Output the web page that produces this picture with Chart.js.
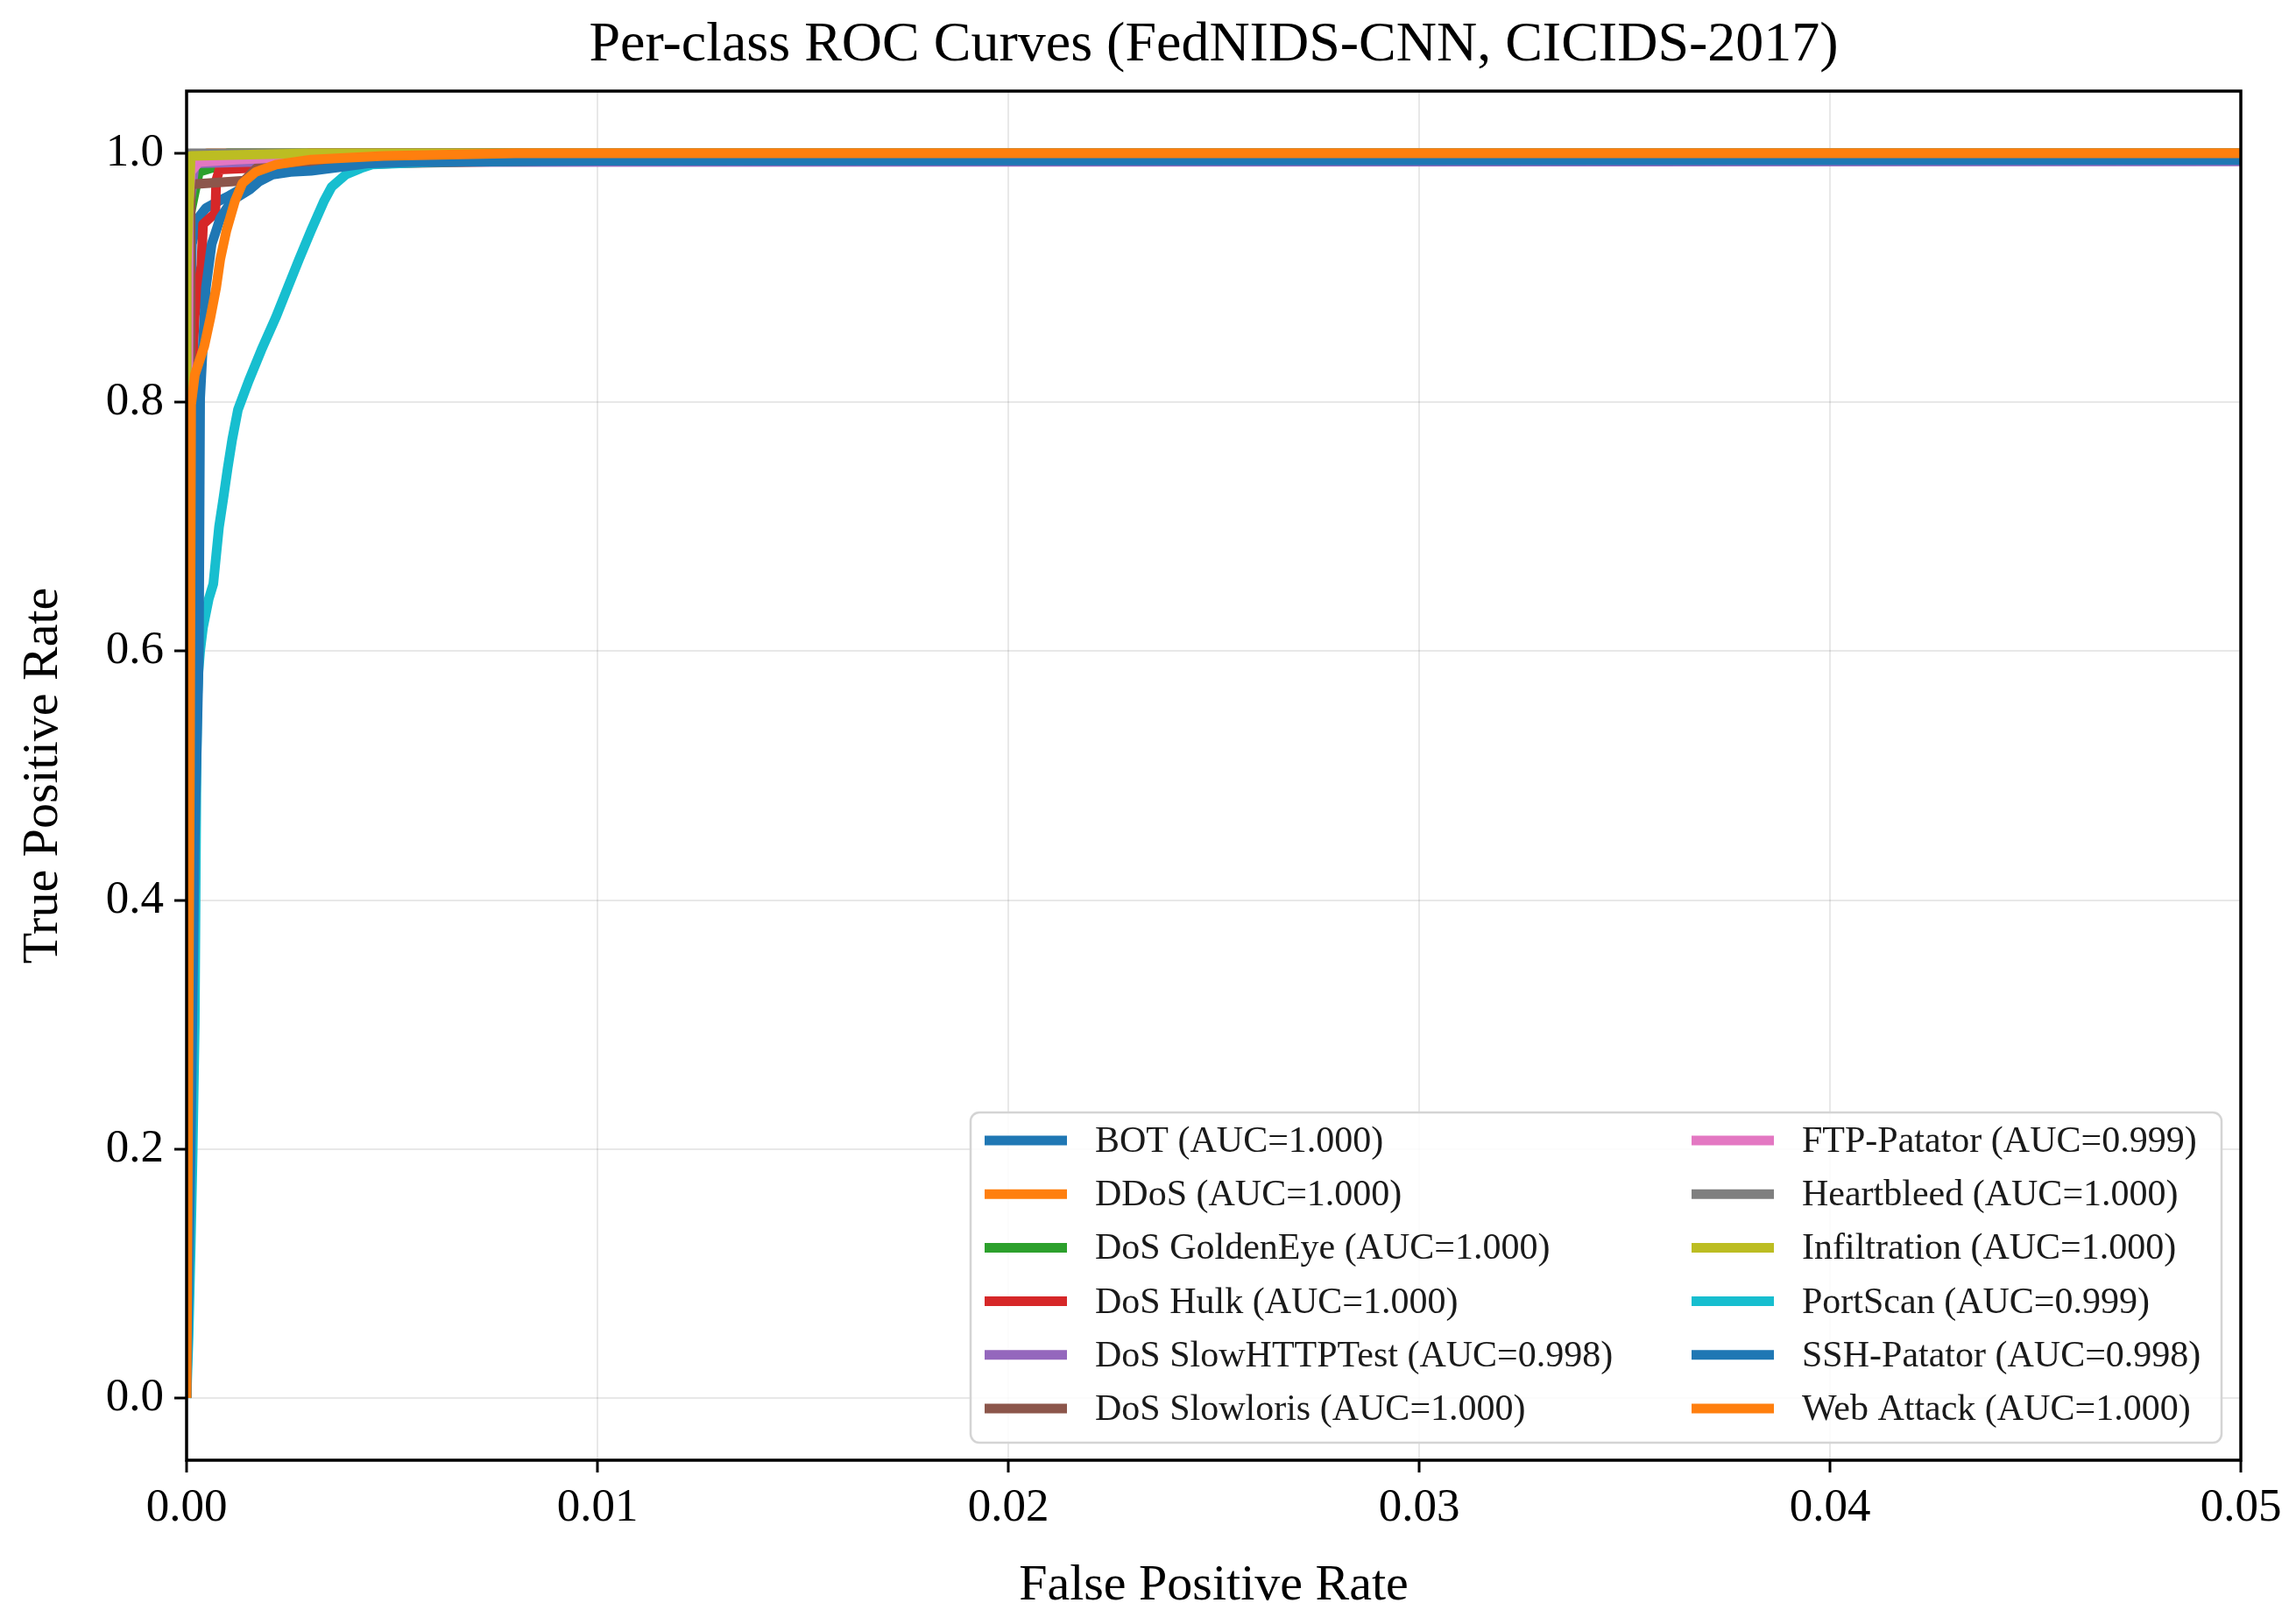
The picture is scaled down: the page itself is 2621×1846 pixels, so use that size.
<!DOCTYPE html>
<html>
<head>
<meta charset="utf-8">
<script src="https://cdn.jsdelivr.net/npm/chart.js@4.4.1/dist/chart.umd.min.js"></script>
<style>
  html, body { margin: 0; padding: 0; background: #fff; }
  canvas { display: block; }
</style>
</head>
<body>
<canvas id="roc" width="2621" height="1846"></canvas>
<script>
// class names + AUC from the legend
const classes = ['BOT', 'DDoS', 'DoS GoldenEye', 'DoS Hulk', 'DoS SlowHTTPTest', 'DoS Slowloris',
                 'FTP-Patator', 'Heartbleed', 'Infiltration', 'PortScan', 'SSH-Patator', 'Web Attack'];
const aucs = ['1.000', '1.000', '1.000', '1.000', '0.998', '1.000', '0.999', '1.000', '1.000', '0.999', '0.998', '1.000'];
const colors = ['#1f77b4', '#ff7f0e', '#2ca02c', '#d62728', '#9467bd', '#8c564b',
                '#e377c2', '#7f7f7f', '#bcbd22', '#17becf', '#1f77b4', '#ff7f0e'];

const chartTitle = 'Per-class ROC Curves (FedNIDS-CNN, CICIDS-2017)';
const xTicks = [0, 0.01, 0.02, 0.03, 0.04, 0.05];
const yTicks = [0, 0.2, 0.4, 0.6, 0.8, 1.0];

// ROC points (fpr, tpr)
const botFpr = [0, 0.00005, 0.0001, 0.00013, 0.00026, 0.00047, 0.00075, 0.00104, 0.00125, 0.0016, 0.0025, 0.006, 0.02, 0.05];
const botTpr = [0, 0.5, 0.86, 0.927, 0.947, 0.956, 0.961, 0.966, 0.970, 0.98, 0.99, 0.997, 1.0, 1.0];

const ddosFpr = [0, 0.00003, 0.0001, 0.0005, 0.05];
const ddosTpr = [0, 0.9, 0.99, 1.0, 1.0];

const goldenFpr = [0, 0.00008, 0.0003, 0.0006, 0.001, 0.05];
const goldenTpr = [0, 0.95, 0.985, 0.988, 1.0, 1.0];

const hulkFpr = [0, 0.0001, 0.0002, 0.00036, 0.0004, 0.0007, 0.00072, 0.0008, 0.0015, 0.002, 0.003, 0.05];
const hulkTpr = [0, 0.8, 0.87, 0.91, 0.943, 0.952, 0.978, 0.987, 0.988, 0.995, 1.0, 1.0];

const slowhttpFpr = [0, 0.00005, 0.0002, 0.0015, 0.05];
const slowhttpTpr = [0, 0.95, 0.992, 0.993, 0.9935];

const slowlorisFpr = [0, 0.0001, 0.0001, 0.0014, 0.0017, 0.005, 0.012, 0.02, 0.05];
const slowlorisTpr = [0, 0.6, 0.975, 0.978, 0.988, 0.992, 0.996, 1.0, 1.0];

const ftpFpr = [0, 0.00005, 0.0001, 0.0003, 0.0012, 0.004, 0.01, 0.05];
const ftpTpr = [0, 0.96, 0.985, 0.993, 0.995, 0.999, 1.0, 1.0];

const heartFpr = [0, 0, 0.05];
const heartTpr = [0, 1.0, 1.0];

const infilFpr = [0, 0, 0.0001, 0.003, 0.05];
const infilTpr = [0, 0.91, 0.998, 1.0, 1.0];

const portFpr = [0, 0.00005, 0.0001, 0.00015, 0.0002, 0.00022, 0.00024, 0.00026, 0.00029, 0.00033, 0.0004, 0.00054,
                 0.00065, 0.00072, 0.00079, 0.0009, 0.001, 0.00111, 0.00125, 0.00151, 0.00182, 0.00217, 0.00246,
                 0.00274, 0.00303, 0.00335, 0.00353, 0.00388, 0.00424, 0.00452, 0.006, 0.01, 0.02, 0.05];
const portTpr = [0, 0.05, 0.12, 0.2, 0.3, 0.4, 0.5, 0.56, 0.584, 0.6, 0.619, 0.642,
                 0.654, 0.677, 0.70, 0.724, 0.747, 0.77, 0.794, 0.817, 0.842, 0.868, 0.892,
                 0.915, 0.938, 0.962, 0.973, 0.983, 0.988, 0.991, 0.993, 0.995, 0.997, 0.999];

const sshFpr = [0, 0.0001, 0.0002, 0.0003, 0.00033, 0.00047, 0.00061, 0.00082, 0.0011, 0.00154, 0.00175, 0.0021,
                0.00253, 0.00303, 0.00374, 0.00445, 0.0055, 0.01, 0.05];
const sshTpr = [0, 0.2, 0.45, 0.6, 0.803, 0.892, 0.927, 0.948, 0.962, 0.971, 0.977, 0.983,
                0.985, 0.986, 0.989, 0.992, 0.993, 0.994, 0.9945];

const webFpr = [0, 0.00008, 0.00011, 0.0002, 0.00043, 0.00058, 0.00072, 0.00082, 0.00097, 0.00118, 0.00136, 0.00168,
                0.00218, 0.00303, 0.0048, 0.008, 0.05];
const webTpr = [0, 0.5, 0.798, 0.822, 0.845, 0.868, 0.892, 0.915, 0.938, 0.962, 0.976, 0.985,
                0.991, 0.995, 0.998, 1.0, 1.0];

const curves = [
  [botFpr, botTpr], [ddosFpr, ddosTpr], [goldenFpr, goldenTpr], [hulkFpr, hulkTpr],
  [slowhttpFpr, slowhttpTpr], [slowlorisFpr, slowlorisTpr], [ftpFpr, ftpTpr], [heartFpr, heartTpr],
  [infilFpr, infilTpr], [portFpr, portTpr], [sshFpr, sshTpr], [webFpr, webTpr]
];

const serif = '"Liberation Serif", "Times New Roman", serif';
const LW = 11;

const datasets = curves.map(function(c, i) {
  return {
    label: classes[i] + ' (AUC=' + aucs[i] + ')',
    data: c[0].map(function(x, k) { return {x: x, y: c[1][k]}; }),
    borderColor: colors[i],
    backgroundColor: colors[i],
    borderWidth: LW,
    pointRadius: 0,
    fill: false,
    tension: 0,
    clip: 0,
    borderJoinStyle: 'round',
    borderCapStyle: 'butt',
    order: curves.length - i   // later classes on top, like matplotlib
  };
});

// black frame round the plot + title centred over the axes
const frame = {
  id: 'frame',
  afterDatasetsDraw(chart) {
    const a = chart.chartArea, ctx = chart.ctx;
    ctx.save();
    ctx.strokeStyle = '#000';
    ctx.lineWidth = 3.5;
    ctx.strokeRect(a.left, a.top, a.right - a.left, a.bottom - a.top);
    ctx.font = '64px ' + serif;
    ctx.fillStyle = '#000';
    ctx.textAlign = 'center';
    ctx.textBaseline = 'middle';
    ctx.fillText(chartTitle, (a.left + a.right) / 2, 52);
    ctx.restore();
  }
};

// two-column legend in the lower right corner, filled column by column
const innerLegend = {
  id: 'innerLegend',
  afterDraw(chart) {
    const a = chart.chartArea, ctx = chart.ctx;
    const w = 1428, h = 377;
    const left = a.right - 22 - w, top = a.bottom - 20 - h;
    ctx.save();
    ctx.beginPath();
    ctx.roundRect(left, top, w, h, 10);
    ctx.fillStyle = 'rgba(255,255,255,0.85)';
    ctx.fill();
    ctx.strokeStyle = '#d4d4d4';
    ctx.lineWidth = 2.5;
    ctx.stroke();
    ctx.font = '42px ' + serif;
    ctx.textBaseline = 'middle';
    ctx.fillStyle = '#1a1a1a';
    const rows = 6;
    chart.data.datasets.forEach(function(ds, i) {
      const col = Math.floor(i / rows), row = i % rows;
      const x0 = left + (col === 0 ? 16 : 823);
      const y = top + 32 + row * 61.2;
      ctx.beginPath();
      ctx.moveTo(x0, y);
      ctx.lineTo(x0 + 94, y);
      ctx.strokeStyle = ds.borderColor;
      ctx.lineWidth = LW;
      ctx.stroke();
      ctx.fillText(ds.label, x0 + 126, y + 2);
    });
    ctx.restore();
  }
};

new Chart(document.getElementById('roc'), {
  type: 'line',
  data: { datasets: datasets },
  plugins: [frame, innerLegend],
  options: {
    responsive: false,
    animation: false,
    devicePixelRatio: 1,
    layout: { padding: { left: 0, right: 63, top: 104, bottom: 0 } },
    plugins: {
      legend: { display: false },
      tooltip: { enabled: false },
      title: { display: false }
    },
    scales: {
      x: {
        type: 'linear',
        min: 0,
        max: 0.05,
        afterBuildTicks: function(s) { s.ticks = xTicks.map(function(v) { return {value: v}; }); },
        afterFit: function(s) { s.height = 179; },
        ticks: {
          color: '#000',
          padding: 9,
          maxRotation: 0,
          font: { family: serif, size: 53 },
          callback: function(v) { return v.toFixed(2); }
        },
        grid: { color: 'rgba(0,0,0,0.09)', lineWidth: 2, tickLength: 14, tickColor: '#000', tickWidth: 3 },
        border: { display: false },
        title: {
          display: true,
          text: 'False Positive Rate',
          color: '#000',
          font: { family: serif, size: 58 },
          padding: { top: 5, bottom: 0 }
        }
      },
      y: {
        type: 'linear',
        min: -0.05,
        max: 1.05,
        afterBuildTicks: function(s) { s.ticks = yTicks.map(function(v) { return {value: v}; }); },
        afterFit: function(s) { s.width = 213; },
        ticks: {
          color: '#000',
          padding: 12,
          font: { family: serif, size: 53 },
          callback: function(v) { return v.toFixed(1); }
        },
        grid: { color: 'rgba(0,0,0,0.09)', lineWidth: 2, tickLength: 14, tickColor: '#000', tickWidth: 3 },
        border: { display: false },
        title: {
          display: true,
          text: 'True Positive Rate',
          color: '#000',
          font: { family: serif, size: 58 },
          padding: { top: 15, bottom: 0 }
        }
      }
    }
  }
});
</script>
</body>
</html>
